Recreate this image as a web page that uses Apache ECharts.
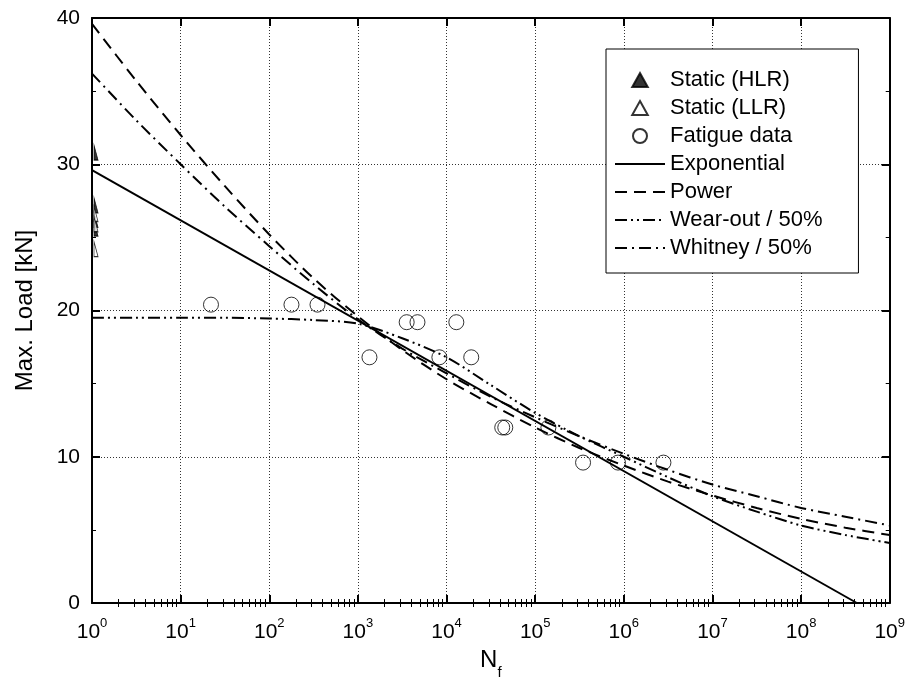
<!DOCTYPE html>
<html>
<head>
<meta charset="utf-8">
<title>Max. Load vs N_f</title>
<script src="https://cdn.jsdelivr.net/npm/echarts@6/dist/echarts.min.js"></script>
<style>
html, body { margin: 0; padding: 0; background: #fff; }
#chart { width: 908px; height: 697px; }
</style>
</head>
<body>
<div id="chart"></div>
<script>
// tick labels
var yTicks = [0, 10, 20, 30, 40];
var xExponents = [0, 1, 2, 3, 4, 5, 6, 7, 8, 9];

// static tests, all at N = 1
var hlrN = [1, 1, 1, 1];
var hlrLoad = [30.8, 27.2, 26.2, 25.6];
var llrN = [1, 1, 1];
var llrLoad = [26.6, 25.9, 24.2];

// fatigue data
var fatigueN = [22, 178, 350, 1350, 3550, 4700, 12900, 8300, 19000, 42500, 46000, 141000, 347000, 860000, 2800000];
var fatigueLoad = [20.4, 20.4, 20.4, 16.8, 19.2, 19.2, 19.2, 16.8, 16.8, 12.0, 12.0, 12.0, 9.6, 9.6, 9.6];

// fitted curves
var expN = [1, 4.26e8];
var expLoad = [29.6, 0];

var curveN = [1, 3.16, 10, 31.6, 100, 316, 1000, 3160, 1e4, 3.16e4, 1e5, 3.16e5, 1e6, 3.16e6, 1e7, 3.16e7, 1e8, 3.16e8, 1e9];
var powerLoad = [39.6, 35.7, 32.0, 28.5, 25.2, 22.2, 19.6, 17.3, 15.3, 13.6, 12.0, 10.6, 9.4, 8.3, 7.35, 6.5, 5.75, 5.15, 4.65];
var wearLoad = [19.5, 19.5, 19.5, 19.5, 19.45, 19.35, 19.1, 18.1, 16.8, 14.9, 13.0, 11.4, 10.0, 8.6, 7.3, 6.25, 5.3, 4.65, 4.1];
var whitneyLoad = [36.2, 33.0, 30.0, 27.1, 24.4, 21.8, 19.4, 17.4, 15.7, 14.1, 12.7, 11.4, 10.2, 9.1, 8.1, 7.3, 6.5, 5.9, 5.3];

function zip(xs, ys) {
    return xs.map(function (x, i) { return [x, ys[i]]; });
}

// minor ticks 2..9 inside each decade
var minorTicks = [];
xExponents.slice(0, -1).forEach(function (e) {
    for (var m = 2; m <= 9; m++) minorTicks.push(m * Math.pow(10, e));
});

var font = '"Liberation Sans", Arial, sans-serif';
var black = '#000';
var gridDots = { show: true, lineStyle: { color: '#333', width: 1, type: [1, 2] } };
var frame = { show: true, onZero: false, lineStyle: { color: black, width: 2 } };
var majorTick = { show: true, inside: true, length: 8, lineStyle: { color: black, width: 2 } };
var minorTickX = { show: true, inside: true, length: 4, customValues: minorTicks, lineStyle: { color: black, width: 1 } };
// legend entries for the fitted lines: line sample only, no marker
var noMarker = { color: 'rgba(0,0,0,0)', borderColor: 'rgba(0,0,0,0)', borderWidth: 0, opacity: 0 };
var halfTriangle = 'path://M0,0L0,2L1,2Z';
var fullTriangle = 'path://M1,0L2,1.8L0,1.8Z';

function xLog(extra) {
    var a = { type: 'log', logBase: 10, min: 1, max: 1e9, interval: 1 };
    for (var k in extra) a[k] = extra[k];
    return a;
}

var myChart = echarts.init(document.getElementById('chart'));
var option = {
    animation: false,
    backgroundColor: '#fff',
    textStyle: { fontFamily: font },
    grid: { left: 92, right: 17, top: 18, bottom: 94, containLabel: false },
    legend: {
        orient: 'vertical',
        left: 606, top: 49,
        backgroundColor: '#fff',
        borderColor: black, borderWidth: 1, borderRadius: 0,
        padding: [20, 36, 14, 8],
        itemWidth: 50, itemHeight: 14, itemGap: 6,
        symbolKeepAspect: true,
        textStyle: { fontSize: 22, lineHeight: 22, color: black, fontFamily: font },
        data: [
            { name: 'Static (HLR)', icon: fullTriangle },
            { name: 'Static (LLR)', icon: fullTriangle },
            { name: 'Fatigue data', icon: 'circle' },
            { name: 'Exponential', itemStyle: noMarker },
            { name: 'Power', itemStyle: noMarker },
            { name: 'Wear-out / 50%', itemStyle: noMarker },
            { name: 'Whitney / 50%', itemStyle: noMarker }
        ]
    },
    xAxis: [
        xLog({
            position: 'bottom',
            axisLine: frame, axisTick: majorTick,
            splitLine: gridDots,
            axisLabel: {
                margin: 14, color: black,
                formatter: function (v) {
                    var e = Math.round(Math.log10(v));
                    return '{b|10}{s|' + xExponents[e] + '}';
                },
                rich: {
                    b: { fontSize: 21, lineHeight: 30, fontFamily: font, color: black },
                    s: { fontSize: 13, lineHeight: 13, verticalAlign: 'top', fontFamily: font, color: black }
                }
            },
            name: '{n|N}{s|f}',
            nameLocation: 'middle', nameGap: 37,
            nameTextStyle: {
                rich: {
                    n: { fontSize: 24, lineHeight: 40, fontFamily: font, color: black },
                    s: { fontSize: 15, lineHeight: 15, verticalAlign: 'bottom', fontFamily: font, color: black }
                }
            }
        }),
        xLog({ position: 'bottom', axisLine: { show: false }, axisTick: minorTickX, axisLabel: { show: false }, splitLine: { show: false } }),
        xLog({ position: 'top', axisLine: frame, axisTick: majorTick, axisLabel: { show: false }, splitLine: { show: false } }),
        xLog({ position: 'top', axisLine: { show: false }, axisTick: minorTickX, axisLabel: { show: false }, splitLine: { show: false } })
    ],
    yAxis: [
        {
            type: 'value', position: 'left',
            min: yTicks[0], max: yTicks[yTicks.length - 1], interval: 10,
            axisLine: frame, axisTick: majorTick,
            minorTick: { show: true, splitNumber: 2, length: 4, lineStyle: { color: black, width: 1 } },
            splitLine: gridDots,
            axisLabel: { fontSize: 21, margin: 12, color: black, fontFamily: font },
            name: 'Max. Load [kN]',
            nameLocation: 'middle', nameGap: 55,
            nameTextStyle: { fontSize: 24, color: black, fontFamily: font }
        },
        {
            type: 'value', position: 'right',
            min: yTicks[0], max: yTicks[yTicks.length - 1], interval: 10,
            axisLine: frame, axisTick: majorTick,
            minorTick: { show: true, splitNumber: 2, length: 4, lineStyle: { color: black, width: 1 } },
            splitLine: { show: false },
            axisLabel: { show: false }
        }
    ],
    series: [
        {
            name: 'Exponential', type: 'line', symbol: 'none',
            data: zip(expN, expLoad),
            lineStyle: { color: black, width: 2, type: 'solid' }, itemStyle: { color: black }
        },
        {
            name: 'Power', type: 'line', symbol: 'none', smooth: 0.3,
            data: zip(curveN, powerLoad),
            lineStyle: { color: black, width: 2, type: [12, 7] }, itemStyle: { color: black }
        },
        {
            name: 'Wear-out / 50%', type: 'line', symbol: 'none', smooth: 0.3,
            data: zip(curveN, wearLoad),
            lineStyle: { color: black, width: 2, type: [12, 4, 2, 4, 2, 4] }, itemStyle: { color: black }
        },
        {
            name: 'Whitney / 50%', type: 'line', symbol: 'none', smooth: 0.3,
            data: zip(curveN, whitneyLoad),
            lineStyle: { color: black, width: 2, type: [12, 5, 2, 5] }, itemStyle: { color: black }
        },
        {
            name: 'Fatigue data', type: 'scatter', symbol: 'circle', symbolSize: 15, z: 5,
            data: zip(fatigueN, fatigueLoad),
            itemStyle: { color: 'rgba(0,0,0,0)', borderColor: black, borderWidth: 1 }
        },
        {
            // only the right half of the marker shows at the left edge
            name: 'Static (HLR)', type: 'scatter', z: 6,
            symbol: halfTriangle, symbolSize: [8, 15], symbolOffset: [4, 0], symbolKeepAspect: true,
            data: zip(hlrN, hlrLoad),
            itemStyle: { color: black, borderColor: black, borderWidth: 1 }
        },
        {
            name: 'Static (LLR)', type: 'scatter', z: 6,
            symbol: halfTriangle, symbolSize: [8, 15], symbolOffset: [4, 0], symbolKeepAspect: true,
            data: zip(llrN, llrLoad),
            itemStyle: { color: '#fff', borderColor: black, borderWidth: 1 }
        }
    ]
};
myChart.setOption(option);
</script>
</body>
</html>
